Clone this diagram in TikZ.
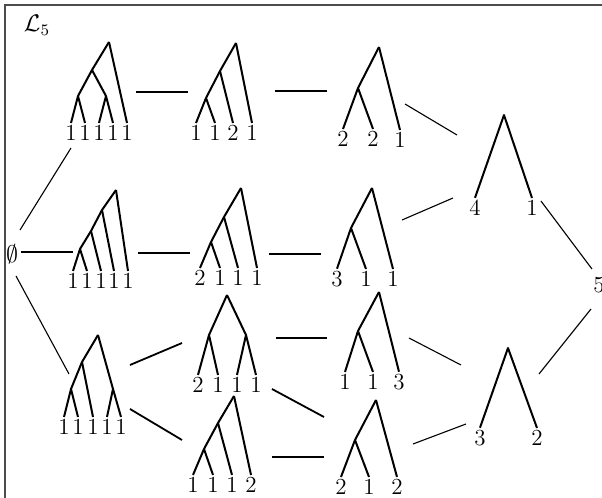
\documentclass[tikz,border=0pt]{standalone}
\usepackage{amsmath}
\usepackage{amssymb}
\begin{document}
\begin{tikzpicture}[
    x=0.5pt, y=-0.5pt,
    font=\fontsize{11.5}{14}\selectfont,
    lf/.style={inner sep=1pt},
    br/.style={line width=1pt, line join=round},
    link/.style={line width=0.9pt},
    thinlink/.style={line width=0.55pt}
  ]
  \useasboundingbox (0,0) rectangle (602,498);
  \draw[black!70, line width=0.7pt] (5,498) -- (5,5) -- (602,5);
  \node (L5) at (37,25) {$\mathcal{L}_5$};
  \node (empty) at (12,254) {$\emptyset$};
  \node (five) at (599,285) {5};

  % row 1
  \coordinate (a-r) at (109,42);
  \coordinate (a-u) at (92,70);
  \coordinate (a-v) at (78,96);
  \coordinate (a-w) at (106,96);
  \node[lf] (a-1) at (71,133) {1};
  \node[lf] (a-2) at (85,133) {1};
  \node[lf] (a-3) at (99,133) {1};
  \node[lf] (a-4) at (113,133) {1};
  \node[lf] (a-5) at (127,133) {1};
  \draw[br] (a-r) -- (a-u) -- (a-v) -- (a-1.north);
  \draw[br] (a-r) -- (a-5.north);
  \draw[br] (a-u) -- (a-w) -- (a-4.north);
  \draw[br] (a-v) -- (a-2.north);
  \draw[br] (a-w) -- (a-3.north);

  \coordinate (b-r) at (236,43);
  \coordinate (b-u) at (220,71);
  \coordinate (b-v) at (206,98);
  \node[lf] (b-1) at (196,133) {1};
  \node[lf] (b-2) at (215,133) {1};
  \node[lf] (b-3) at (233,133) {2};
  \node[lf] (b-4) at (252,133) {1};
  \draw[br] (b-r) -- (b-u) -- (b-v) -- (b-1.north);
  \draw[br] (b-r) -- (b-4.north);
  \draw[br] (b-u) -- (b-3.north);
  \draw[br] (b-v) -- (b-2.north);

  \coordinate (c-r) at (379,47);
  \coordinate (c-u) at (358,88);
  \node[lf] (c-1) at (343,139) {2};
  \node[lf] (c-2) at (373,139) {2};
  \node[lf] (c-3) at (400,140) {1};
  \draw[br] (c-r) -- (c-u) -- (c-1.north);
  \draw[br] (c-u) -- (c-2.north);
  \draw[br] (c-r) -- (c-3.north);

  % row 2
  \coordinate (d-r) at (116,190);
  \coordinate (d-u) at (102,210);
  \coordinate (d-v) at (91,231);
  \coordinate (d-w) at (80,249);
  \node[lf] (d-1) at (73,281) {1};
  \node[lf] (d-2) at (87,281) {1};
  \node[lf] (d-3) at (101,281) {1};
  \node[lf] (d-4) at (114,281) {1};
  \node[lf] (d-5) at (128,281) {1};
  \draw[br] (d-r) -- (d-u) -- (d-v) -- (d-w) -- (d-1.north);
  \draw[br] (d-w) -- (d-2.north);
  \draw[br] (d-v) -- (d-3.north);
  \draw[br] (d-u) -- (d-4.north);
  \draw[br] (d-r) -- (d-5.north);

  \coordinate (e-r) at (241,188);
  \coordinate (e-u) at (224,217);
  \coordinate (e-v) at (211,242);
  \node[lf] (e-1) at (200,278) {2};
  \node[lf] (e-2) at (220,278) {1};
  \node[lf] (e-3) at (238,278) {1};
  \node[lf] (e-4) at (257,278) {1};
  \draw[br] (e-r) -- (e-u) -- (e-v) -- (e-1.north);
  \draw[br] (e-v) -- (e-2.north);
  \draw[br] (e-u) -- (e-3.north);
  \draw[br] (e-r) -- (e-4.north);

  \coordinate (f-r) at (372,188);
  \coordinate (f-u) at (351,228);
  \node[lf] (f-1) at (337,279) {3};
  \node[lf] (f-2) at (366,279) {1};
  \node[lf] (f-3) at (393,279) {1};
  \draw[br] (f-r) -- (f-u) -- (f-1.north);
  \draw[br] (f-u) -- (f-2.north);
  \draw[br] (f-r) -- (f-3.north);

  % rows 3 and 4
  \coordinate (g-r) at (98,335);
  \coordinate (g-u) at (82,362);
  \coordinate (g-v) at (71,389);
  \coordinate (g-w) at (113,389);
  \node[lf] (g-1) at (64,427) {1};
  \node[lf] (g-2) at (78,427) {1};
  \node[lf] (g-3) at (93,427) {1};
  \node[lf] (g-4) at (107,427) {1};
  \node[lf] (g-5) at (121,427) {1};
  \draw[br] (g-r) -- (g-u) -- (g-v) -- (g-1.north);
  \draw[br] (g-v) -- (g-2.north);
  \draw[br] (g-u) -- (g-3.north);
  \draw[br] (g-r) -- (g-w) -- (g-5.north);
  \draw[br] (g-w) -- (g-4.north);

  \coordinate (h-r) at (227,295);
  \coordinate (h-u) at (209,335);
  \coordinate (h-w) at (246,335);
  \node[lf] (h-1) at (198,385) {2};
  \node[lf] (h-2) at (218,385) {1};
  \node[lf] (h-3) at (237,385) {1};
  \node[lf] (h-4) at (256,385) {1};
  \draw[br] (h-r) -- (h-u) -- (h-1.north);
  \draw[br] (h-u) -- (h-2.north);
  \draw[br] (h-r) -- (h-w) -- (h-3.north);
  \draw[br] (h-w) -- (h-4.north);

  \coordinate (i-r) at (379,292);
  \coordinate (i-u) at (358,331);
  \node[lf] (i-1) at (345,382) {1};
  \node[lf] (i-2) at (373,382) {1};
  \node[lf] (i-3) at (399,382) {3};
  \draw[br] (i-r) -- (i-u) -- (i-1.north);
  \draw[br] (i-u) -- (i-2.north);
  \draw[br] (i-r) -- (i-3.north);

  \coordinate (j-r) at (234,396);
  \coordinate (j-u) at (218,423);
  \coordinate (j-v) at (204,449);
  \node[lf] (j-1) at (193,485) {1};
  \node[lf] (j-2) at (213,485) {1};
  \node[lf] (j-3) at (232,485) {1};
  \node[lf] (j-4) at (251,485) {2};
  \draw[br] (j-r) -- (j-u) -- (j-v) -- (j-1.north);
  \draw[br] (j-v) -- (j-2.north);
  \draw[br] (j-u) -- (j-3.north);
  \draw[br] (j-r) -- (j-4.north);

  \coordinate (k-r) at (376,400);
  \coordinate (k-u) at (355,440);
  \node[lf] (k-1) at (341,487) {2};
  \node[lf] (k-2) at (369,487) {1};
  \node[lf] (k-3) at (397,487) {2};
  \draw[br] (k-r) -- (k-u) -- (k-1.north);
  \draw[br] (k-u) -- (k-2.north);
  \draw[br] (k-r) -- (k-3.north);

  % right column
  \coordinate (l-r) at (504,115);
  \node[lf] (l-1) at (475,208) {4};
  \node[lf] (l-2) at (532,208) {1};
  \draw[br] (l-1.north) -- (l-r) -- (l-2.north);

  \coordinate (m-r) at (508,348);
  \node[lf] (m-1) at (480,438) {3};
  \node[lf] (m-2) at (537,438) {2};
  \draw[br] (m-1.north) -- (m-r) -- (m-2.north);

  % connector ends
  \coordinate (ab1) at (136,92);  \coordinate (ab2) at (188,92);
  \coordinate (bc1) at (275,91);  \coordinate (bc2) at (327,91);
  \coordinate (cl1) at (405,104); \coordinate (cl2) at (457,135);
  \coordinate (fl1) at (402,220); \coordinate (fl2) at (453,198);
  \coordinate (l51) at (541,201); \coordinate (l52) at (592,269);
  \coordinate (5m1) at (591,309); \coordinate (5m2) at (539,374);
  \coordinate (im1) at (409,338); \coordinate (im2) at (461,365);
  \coordinate (km1) at (413,444); \coordinate (km2) at (466,424);
  \coordinate (ea1) at (20,230);  \coordinate (ea2) at (71,148);
  \coordinate (ed1) at (21,252);  \coordinate (ed2) at (73,252);
  \coordinate (eg1) at (16,276);  \coordinate (eg2) at (69,374);
  \coordinate (de1) at (138,253); \coordinate (de2) at (190,253);
  \coordinate (ef1) at (269,254); \coordinate (ef2) at (321,254);
  \coordinate (gh1) at (130,365); \coordinate (gh2) at (182,343);
  \coordinate (gj1) at (130,409); \coordinate (gj2) at (182,440);
  \coordinate (hi1) at (276,338); \coordinate (hi2) at (327,338);
  \coordinate (hk1) at (272,389); \coordinate (hk2) at (324,417);
  \coordinate (jk1) at (272,457); \coordinate (jk2) at (324,457);

  \draw[link] (ab1) -- (ab2);
  \draw[link] (bc1) -- (bc2);
  \draw[thinlink] (cl1) -- (cl2);
  \draw[thinlink] (fl1) -- (fl2);
  \draw[thinlink] (l51) -- (l52);
  \draw[thinlink] (5m1) -- (5m2);
  \draw[thinlink] (im1) -- (im2);
  \draw[thinlink] (km1) -- (km2);
  \draw[thinlink] (ea1) -- (ea2);
  \draw[thinlink] (ed1) -- (ed2);
  \draw[thinlink] (eg1) -- (eg2);
  \draw[link] (de1) -- (de2);
  \draw[link] (ef1) -- (ef2);
  \draw[link] (gh1) -- (gh2);
  \draw[link] (gj1) -- (gj2);
  \draw[link] (hi1) -- (hi2);
  \draw[link] (hk1) -- (hk2);
  \draw[link] (jk1) -- (jk2);
\end{tikzpicture}
\end{document}
